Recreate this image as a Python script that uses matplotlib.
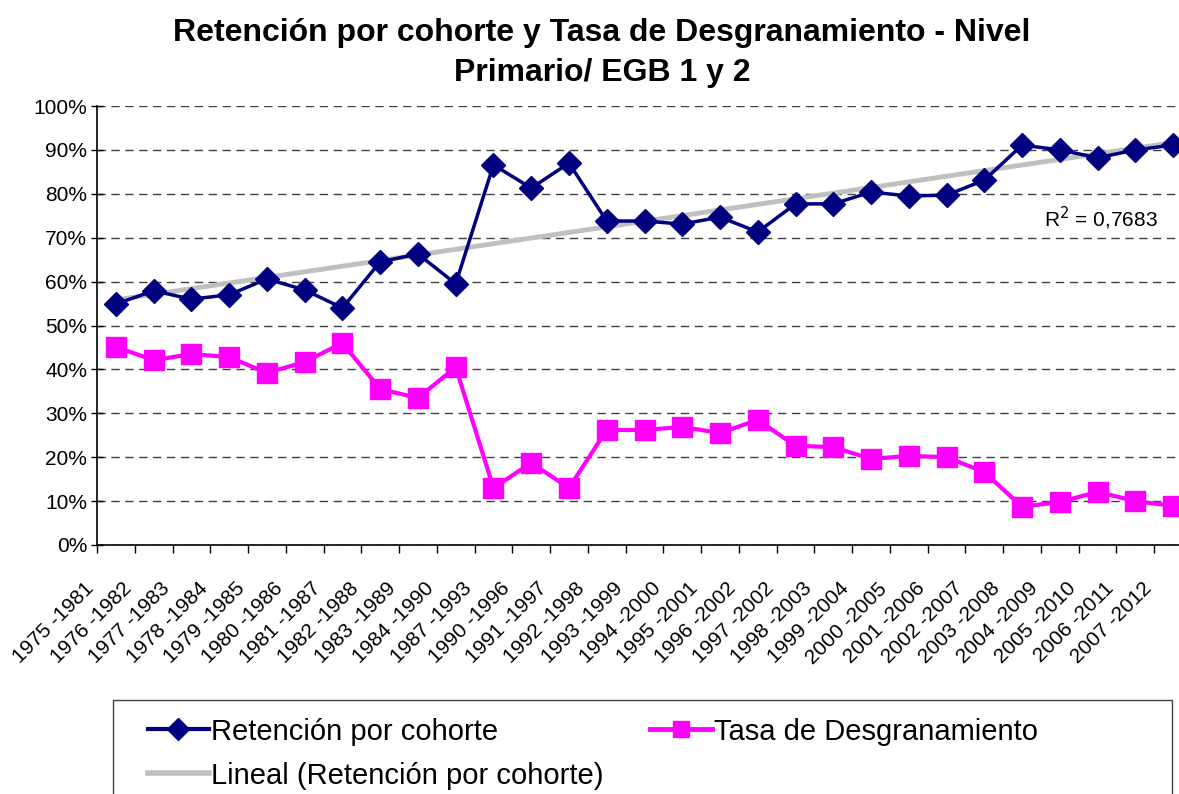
import numpy as np
import matplotlib
matplotlib.use("Agg")
import matplotlib.pyplot as plt
from matplotlib.transforms import ScaledTranslation
from matplotlib.lines import Line2D
from matplotlib.patches import Rectangle

plt.rcParams['font.family'] = ['Liberation Sans', 'DejaVu Sans']

categories = ["1975 -1981", "1976 -1982", "1977 -1983", "1978 -1984", "1979 -1985",
              "1980 -1986", "1981 -1987", "1982 -1988", "1983 -1989", "1984 -1990",
              "1987 -1993", "1990 -1996", "1991 -1997", "1992 -1998", "1993 -1999",
              "1994 -2000", "1995 -2001", "1996 -2002", "1997 -2002", "1998 -2003",
              "1999 -2004", "2000 -2005", "2001 -2006", "2002 -2007", "2003 -2008",
              "2004 -2009", "2005 -2010", "2006 -2011", "2007 -2012"]

retencion = [54.9, 57.9, 56.0, 57.0, 60.6, 58.1, 54.0, 64.5, 66.3, 59.5,
             86.6, 81.3, 87.0, 73.8, 73.8, 73.1, 74.7, 71.3, 77.7, 77.7,
             80.4, 79.5, 79.7, 83.1, 91.1, 90.0, 88.2, 90.0, 91.1]

desgranamiento = [45.1, 42.1, 43.5, 42.8, 39.2, 41.7, 46.0, 35.5, 33.5, 40.5,
                  13.0, 18.7, 13.0, 26.2, 26.2, 26.9, 25.5, 28.5, 22.6, 22.3,
                  19.6, 20.3, 20.0, 16.6, 8.7, 9.8, 12.1, 10.0, 8.9]

r2_text = "R$^2$ = 0,7683"
title = "Retención por cohorte y Tasa de Desgranamiento - Nivel\nPrimario/ EGB 1 y 2"

W, H = 1179, 794
fig = plt.figure(figsize=(W / 100, H / 100), dpi=100)
ax_l, ax_r, ax_t, ax_b = 97, 1192, 106, 545
ax = fig.add_axes([ax_l / W, 1 - ax_b / H, (ax_r - ax_l) / W, (ax_b - ax_t) / H])

x = np.arange(len(categories))
ret = np.array(retencion) / 100
des = np.array(desgranamiento) / 100

coef = np.polyfit(x, ret, 1)
trend = np.polyval(coef, x)

ax.plot(x, trend, color='#C0C0C0', lw=3.5, zorder=2, solid_capstyle='butt')
ax.plot(x, ret, color='#000080', lw=2.5, marker='D', markersize=12,
        markeredgecolor='#000080', zorder=3)
ax.plot(x, des, color='#FF00FF', lw=3.0, marker='s', markersize=14,
        markeredgecolor='#FF00FF', zorder=3)

ax.set_xlim(-0.5, len(categories) - 0.5)
ax.set_ylim(0, 1.0)
ax.set_yticks(np.arange(0, 1.01, 0.1))
ax.set_yticklabels([f"{int(round(v*100))}%" for v in np.arange(0, 1.01, 0.1)], fontsize=15)
ax.yaxis.grid(True, linestyle=(0, (6, 4)), color='#404040', lw=1.0)
ax.set_axisbelow(True)

ax.set_xticks(np.arange(-0.5, len(categories), 1.0))
ax.set_xticklabels([])
ax.set_xticks(x, minor=True)
ax.set_xticklabels(categories, minor=True, rotation=45, ha='right', va='top', fontsize=15)
ax.tick_params(axis='x', which='major', direction='out', length=6, width=1)
ax.tick_params(axis='x', which='minor', length=0, pad=0)
ax.tick_params(axis='y', direction='inout', length=8, width=1, pad=3)
off = ScaledTranslation(-0.18, -0.34, fig.dpi_scale_trans)
for lab in ax.get_xticklabels(minor=True):
    lab.set_transform(lab.get_transform() + off)

for s in ['top', 'right']:
    ax.spines[s].set_visible(False)
for s in ['left', 'bottom']:
    ax.spines[s].set_color('black')
    ax.spines[s].set_linewidth(1.2)

fig.text(1101 / W, 1 - 218 / H, r2_text, fontsize=15, ha='center', va='center')

fig.text(602 / W, 1 - 53 / H, title, fontsize=23, fontweight='bold', ha='center',
         va='center', linespacing=1.45)

# legend frame
fig.patches.append(Rectangle((113 / W, 1 - 830 / H), (1172 - 113) / W, 130 / H,
                             transform=fig.transFigure, fill=False, edgecolor='#404040',
                             lw=1.0))
h_ret = Line2D([], [], color='#000080', lw=3.0, marker='D', markersize=11)
h_des = Line2D([], [], color='#FF00FF', lw=3.5, marker='s', markersize=12)
h_lin = Line2D([], [], color='#C0C0C0', lw=4.0)
handles = [h_ret, h_lin, h_des]
labels = ["Retención por cohorte", "Lineal (Retención por cohorte)", "Tasa de Desgranamiento"]
fig.legend(handles, labels, loc='upper left', bbox_to_anchor=(133 / W, 1 - 703 / H),
           ncol=2, frameon=False, fontsize=21, handlelength=2.1, handletextpad=0.08,
           columnspacing=1.6, labelspacing=0.55, borderpad=0)

fig.savefig("out.png", dpi=100)
